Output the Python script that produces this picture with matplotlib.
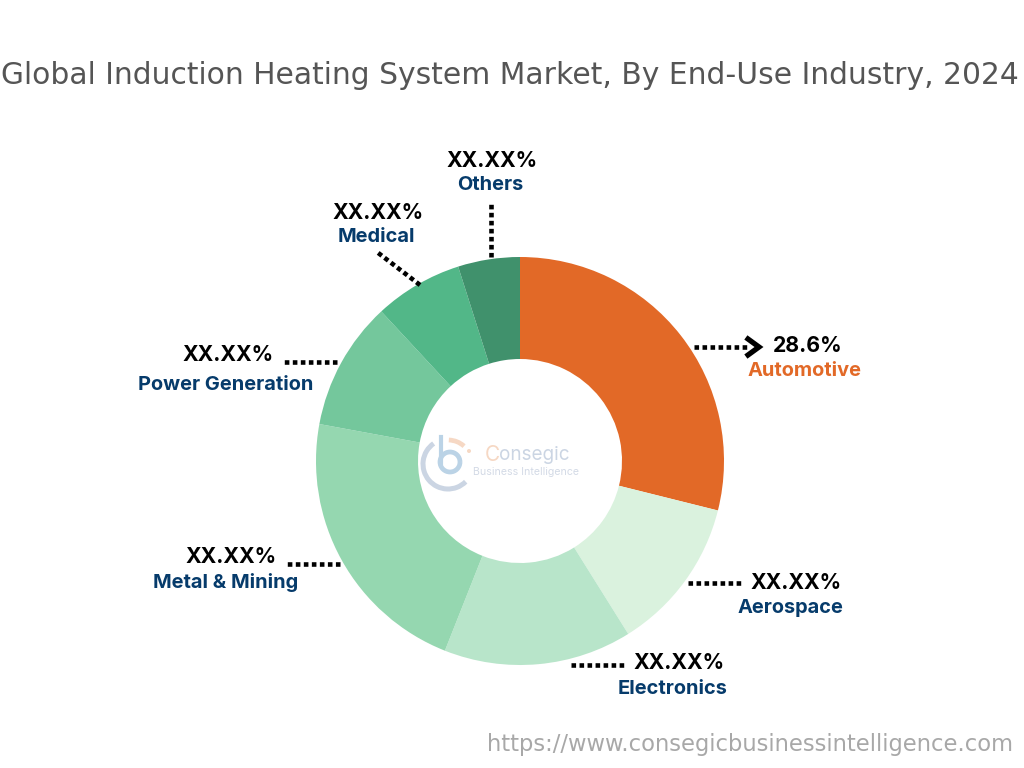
import matplotlib
matplotlib.use("Agg")
import matplotlib.pyplot as plt
from matplotlib.patches import Arc, Circle

categories = ["Automotive", "Aerospace", "Electronics", "Metal & Mining", "Power Generation", "Medical", "Others"]
shares = [28.9, 12.2, 14.9, 21.9, 10.2, 7.0, 4.9]
value_labels = ["28.6%", "XX.XX%", "XX.XX%", "XX.XX%", "XX.XX%", "XX.XX%", "XX.XX%"]
colors = ["#E26927", "#DAF2DE", "#B8E5CA", "#95D7B0", "#74C79C", "#52B788", "#40916C"]
title = "Global Induction Heating System Market, By End-Use Industry, 2024"
url = "https://www.consegicbusinessintelligence.com"

NAVY = "#063B6B"
fig = plt.figure(figsize=(10.24, 7.68), dpi=100)
ax = fig.add_axes([0, 0, 1, 1])
ax.set_xlim(0, 1024)
ax.set_ylim(768, 0)
ax.axis("off")

# y axis is inverted, so counterclock=True runs clockwise on screen
ax.pie(shares, colors=colors, startangle=-90, counterclock=True, center=(520, 461), radius=204,
       wedgeprops=dict(width=102, linewidth=0), frame=False)
ax.set_xlim(0, 1024)
ax.set_ylim(768, 0)
ax.set_aspect("equal")

ax.text(510, 75, title, ha="center", va="center", fontsize=21.45, color="#555555",
        family="DejaVu Sans")
ax.text(750, 744, url, ha="center", va="center", fontsize=16.3, color="#A8A8A8",
        family="DejaVu Sans")

# (value x, value y, name x, name y, leader start, leader end)
layout = [
    (808, 346, 805, 371, (694, 347), (750, 347)),
    (796, 583, 790, 608, (688, 583), (742, 583)),
    (679, 663, 673, 689, (571, 665), (625, 665)),
    (231, 557, 226, 582, (340, 564), (287, 564)),
    (228, 355, 226, 385, (337, 362), (284, 362)),
    (378, 213, 376, 237, (420, 285), (377, 252)),
    (492, 161, 490, 185, (491, 257), (491, 203)),
]
for i, (vx, vy, nx, ny, p0, p1) in enumerate(layout):
    ax.text(vx, vy, value_labels[i], ha="center", va="center", fontsize=15.3, fontweight="bold",
            color="black", family="Inter")
    ax.text(nx, ny, categories[i], ha="center", va="center", fontsize=14.4, fontweight="bold",
            color=colors[0] if i == 0 else NAVY, family="Inter")
    ax.plot([p0[0], p1[0]], [p0[1], p1[1]], color="black", lw=3.3, linestyle=(0, (1.0, 0.75)),
            solid_capstyle="butt")

# arrow head on the Automotive leader
ax.plot([748, 759, 748], [339, 347, 355], color="black", lw=3.8, solid_joinstyle="miter")

# faint logo in the hole
ax.add_patch(Arc((448, 464), 50, 50, theta1=45, theta2=235, color="#CBD5E3", lw=3.6))
ax.add_patch(Arc((450, 462), 20, 20, theta1=0, theta2=360, color="#BBD3E6", lw=3.4))
ax.plot([441, 441], [437, 463], color="#BBD3E6", lw=3.0)
ax.add_patch(Arc((448, 464), 48, 48, theta1=-88, theta2=-48, color="#F6D8C4", lw=3.4))
ax.add_patch(Circle((469, 451), 2, color="#F6D8C4", lw=0))
ax.text(485, 455, "C", ha="left", va="center", fontsize=15, color="#F6D8C4", family="Inter")
ax.text(498.5, 455, "onsegic", ha="left", va="center", fontsize=13.6, color="#CBD5E3", family="Inter")
ax.text(473, 472, "Business Intelligence", ha="left", va="center", fontsize=7.6, color="#D3DAE6",
        family="Inter")

fig.savefig("out.png", dpi=100, facecolor="white")
